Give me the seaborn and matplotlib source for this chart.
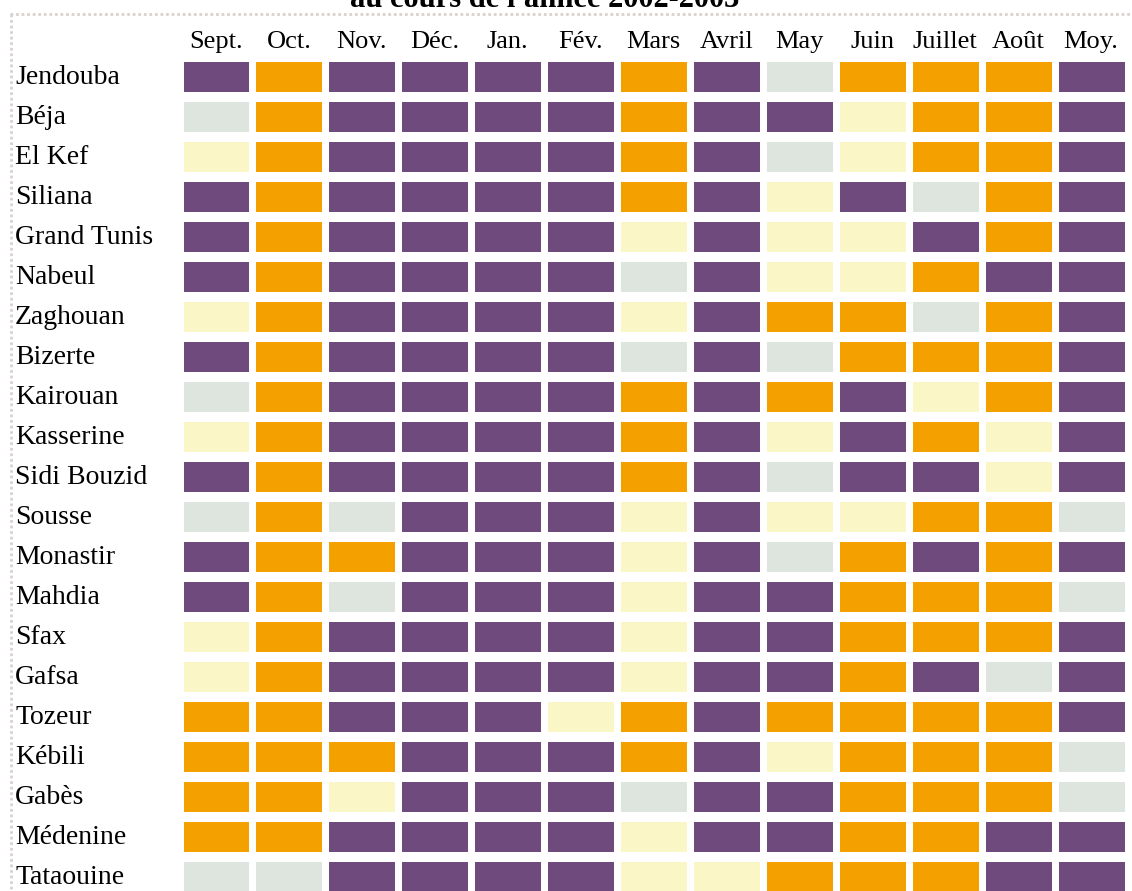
import numpy as np
import pandas as pd
import matplotlib
matplotlib.use("Agg")
import matplotlib.pyplot as plt
from matplotlib.colors import ListedColormap
from matplotlib.lines import Line2D
import seaborn as sns

# Data
regions = ["Jendouba", "Béja", "El Kef", "Siliana", "Grand Tunis", "Nabeul",
           "Zaghouan", "Bizerte", "Kairouan", "Kasserine", "Sidi Bouzid",
           "Sousse", "Monastir", "Mahdia", "Sfax", "Gafsa", "Tozeur",
           "Kébili", "Gabès", "Médenine", "Tataouine"]
months = ["Sept.", "Oct.", "Nov.", "Déc.", "Jan.", "Fév.", "Mars", "Avril",
          "May", "Juin", "Juillet", "Août", "Moy."]

# class per cell: G = grey-green, Y = light yellow, O = orange, P = purple
grid = [
    "POPPPPOPGOOOP",  # Jendouba
    "GOPPPPOPPYOOP",  # Béja
    "YOPPPPOPGYOOP",  # El Kef
    "POPPPPOPYPGOP",  # Siliana
    "POPPPPYPYYPOP",  # Grand Tunis
    "POPPPPGPYYOPP",  # Nabeul
    "YOPPPPYPOOGOP",  # Zaghouan
    "POPPPPGPGOOOP",  # Bizerte
    "GOPPPPOPOPYOP",  # Kairouan
    "YOPPPPOPYPOYP",  # Kasserine
    "POPPPPOPGPPYP",  # Sidi Bouzid
    "GOGPPPYPYYOOG",  # Sousse
    "POOPPPYPGOPOP",  # Monastir
    "POGPPPYPPOOOG",  # Mahdia
    "YOPPPPYPPOOOP",  # Sfax
    "YOPPPPYPPOPGP",  # Gafsa
    "OOPPPYOPOOOOP",  # Tozeur
    "OOOPPPOPYOOOG",  # Kébili
    "OOYPPPGPPOOOG",  # Gabès
    "OOPPPPYPPOOPP",  # Médenine
    "GGPPPPYYOOOPP",  # Tataouine
]
levels = ["G", "Y", "O", "P"]
level_colors = ["#dde5de", "#faf6c6", "#f4a100", "#6f4b7d"]

codes = [[levels.index(c) for c in row] for row in grid]
df = pd.DataFrame(codes, index=regions, columns=months)

# Figure
fig = plt.figure(figsize=(11.32, 8.91), dpi=100)
W, H = 1132, 891
ax = fig.add_axes([179.5 / W, 1 - 57 / H - 840 / H, 948 / W, 840 / H])

sns.heatmap(df, cmap=ListedColormap(level_colors), vmin=-0.5, vmax=3.5,
            cbar=False, linewidths=0, ax=ax)

# white gaps between cells (wider between rows than columns)
ax.vlines(np.arange(0, len(months) + 1), 0, len(regions), color="white",
          linewidth=7 * 72 / 100, zorder=3)
ax.hlines(np.arange(0, len(regions) + 1), 0, len(months), color="white",
          linewidth=10 * 72 / 100, zorder=3)

serif = ["Liberation Serif", "DejaVu Serif"]
ax.xaxis.tick_top()
ax.set_xticklabels(months, rotation=0, fontsize=19, family=serif)
ax.set_yticklabels(regions, rotation=0, fontsize=20, family=serif, ha="left")
ax.tick_params(axis="x", length=0, pad=3)
ax.tick_params(axis="y", length=0, pad=(179.5 - 15) * 72 / 100)
ax.set_xlabel("")
ax.set_ylabel("")
for s in ax.spines.values():
    s.set_visible(False)

# title (cut at the top in the original)
fig.text(545 / W, 1 - 7 / H, "au cours de l'année 2002-2003", ha="center",
         va="baseline", fontsize=22, fontweight="bold", family=serif)

# light dotted frame
fig.add_artist(Line2D([10 / W, 1], [1 - 14 / H, 1 - 14 / H], color="#d9d2ce",
                      linewidth=2, linestyle=(0, (1, 1))))
fig.add_artist(Line2D([11 / W, 11 / W], [1 - 14 / H, 0], color="#d9d2ce",
                      linewidth=2, linestyle=(0, (1, 1))))

fig.savefig("out.png", dpi=100)
